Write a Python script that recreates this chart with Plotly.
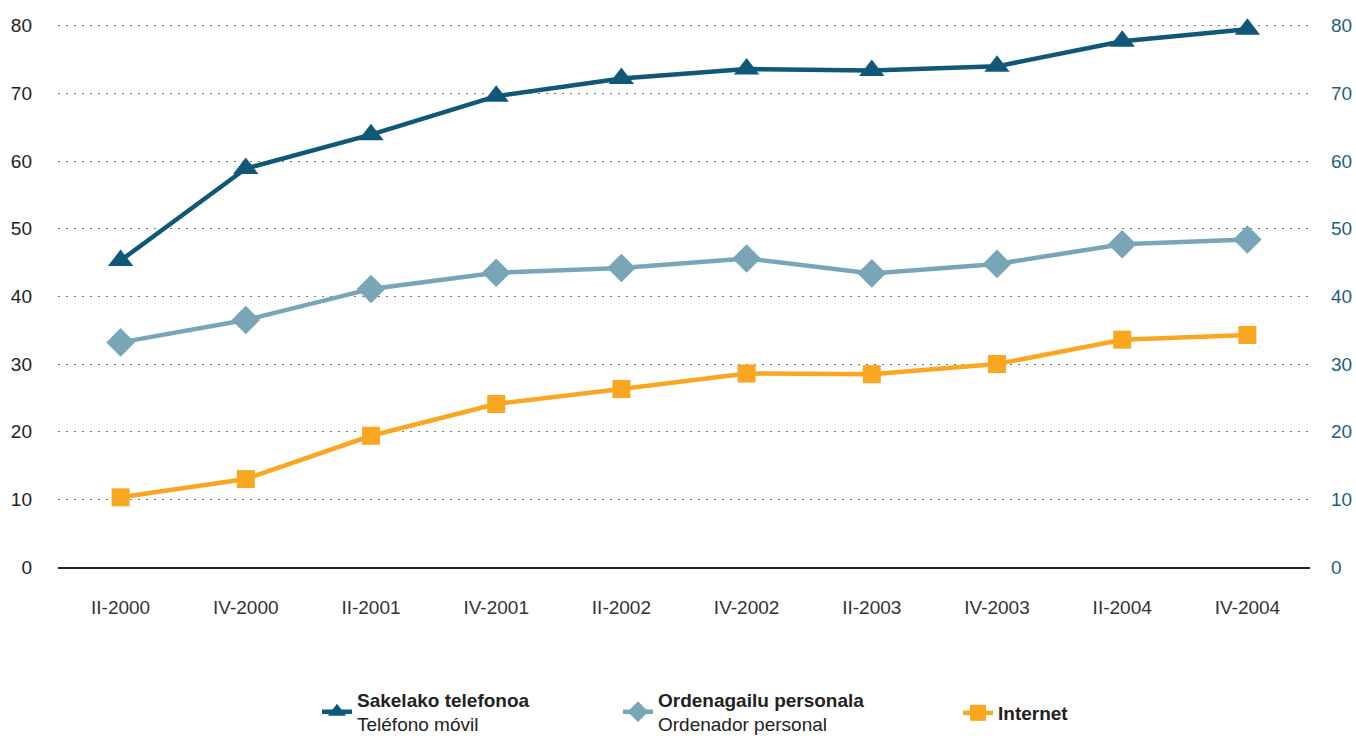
import plotly.graph_objects as go

categories = ["II-2000", "IV-2000", "II-2001", "IV-2001", "II-2002",
              "IV-2002", "II-2003", "IV-2003", "II-2004", "IV-2004"]
mobile = [45.3, 58.9, 63.9, 69.6, 72.2, 73.6, 73.4, 74.0, 77.7, 79.5]
pc = [33.2, 36.5, 41.1, 43.5, 44.2, 45.6, 43.4, 44.8, 47.7, 48.4]
internet = [10.3, 13.0, 19.4, 24.1, 26.3, 28.6, 28.5, 30.0, 33.6, 34.3]

series_names = ["<b>Sakelako telefonoa</b><br>Teléfono móvil",
                "<b>Ordenagailu personala</b><br>Ordenador personal",
                "<b>Internet</b>"]
colors = ["#0F5878", "#78A6B7", "#F9A621"]
symbols = ["triangle-up", "diamond", "square"]
sizes = [22, 22, 18]
y_ticks = [0, 10, 20, 30, 40, 50, 60, 70, 80]

FONT = "Liberation Sans, Arial, sans-serif"

fig = go.Figure()
for i, vals in enumerate([mobile, pc, internet]):
    fig.add_trace(go.Scatter(
        x=categories, y=vals, name=series_names[i], mode="lines+markers",
        line=dict(color=colors[i], width=4.5),
        marker=dict(symbol=symbols[i], size=sizes[i], color=colors[i]),
        cliponaxis=False,
        legend="legend" if i == 0 else f"legend{i+1}",
    ))

legend_common = dict(orientation="h", yanchor="middle", xanchor="left",
                     font=dict(family=FONT, size=19, color="#222222"),
                     bgcolor="rgba(0,0,0,0)", yref="container", xref="container")

W, H = 1356, 736
fig.update_layout(
    width=W, height=H,
    margin=dict(l=58, r=46, t=19, b=169),
    plot_bgcolor="white", paper_bgcolor="white",
    font=dict(family=FONT, size=19, color="#222222"),
    xaxis=dict(type="category", range=[-0.5, 9.5], showgrid=False,
               showline=True, linecolor="#222222", linewidth=2,
               ticks="", ticklabelstandoff=22, automargin=False,
               tickfont=dict(family=FONT, size=19, color="#333333")),
    yaxis=dict(range=[0, 81], tickvals=y_ticks, showgrid=True,
               gridcolor="#777777", gridwidth=1, griddash="1.5px,6.5px",
               zeroline=False, showline=False, ticks="", ticklabelstandoff=25,
               automargin=False,
               tickfont=dict(family=FONT, size=19, color="#222222")),
    yaxis2=dict(range=[0, 81], tickvals=y_ticks, overlaying="y", side="right",
                showgrid=False, zeroline=False, showline=False, ticks="",
                ticklabelstandoff=20, automargin=False,
                tickfont=dict(family=FONT, size=19, color="#1F5F7E")),
    legend=dict(x=317 / W, y=1 - 712 / H, **legend_common),
    legend2=dict(x=618 / W, y=1 - 712 / H, **legend_common),
    legend3=dict(x=958 / W, y=1 - 713 / H, **legend_common),
)
# invisible trace so right axis renders
fig.add_trace(go.Scatter(x=categories, y=mobile, yaxis="y2", mode="markers",
                         marker=dict(opacity=0), showlegend=False, hoverinfo="skip"))

fig.write_html("out.html", config={"displayModeBar": False},
               post_script="document.body.style.margin='0px';document.body.style.overflow='hidden';")
